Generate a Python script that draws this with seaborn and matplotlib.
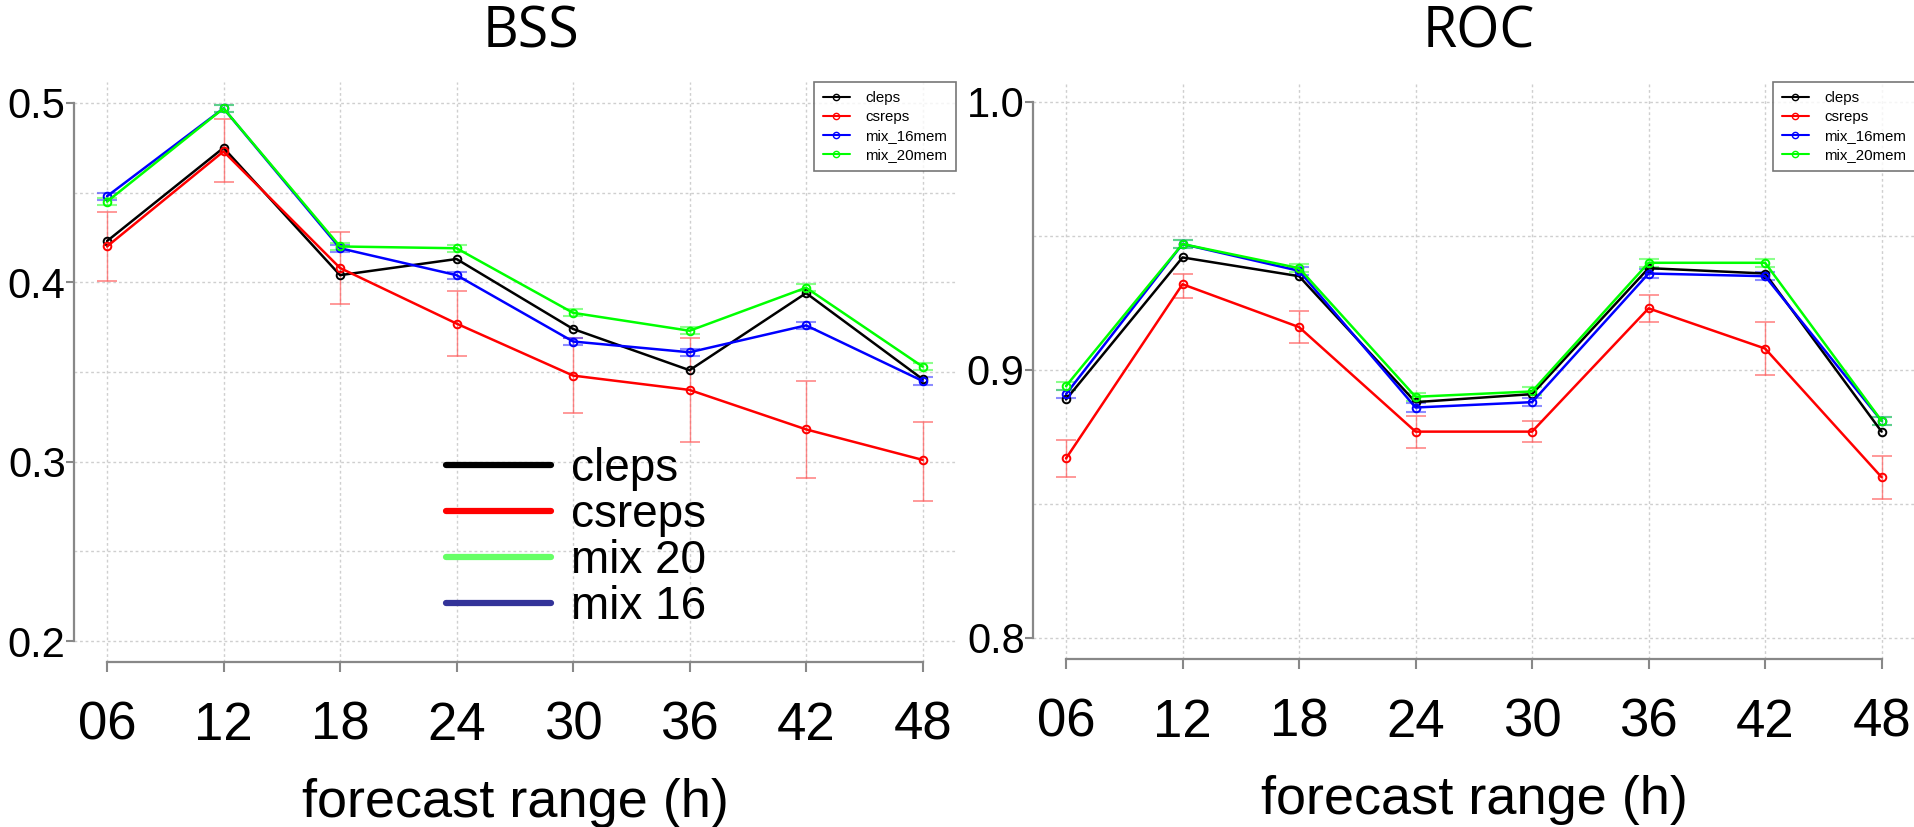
import matplotlib
matplotlib.use("Agg")
import matplotlib.pyplot as plt
from matplotlib.lines import Line2D
from matplotlib.ticker import MultipleLocator
import pandas as pd
import seaborn as sns

# forecast ranges
hours = [6, 12, 18, 24, 30, 36, 42, 48]
hour_labels = ["06", "12", "18", "24", "30", "36", "42", "48"]
models = ["cleps", "csreps", "mix_16mem", "mix_20mem"]
model_colors = ["#000000", "#FF0000", "#0000FF", "#00FF00"]

# BSS values
bss_cleps = [0.423, 0.475, 0.404, 0.413, 0.374, 0.351, 0.394, 0.346]
bss_csreps = [0.420, 0.473, 0.408, 0.377, 0.348, 0.340, 0.318, 0.301]
bss_mix16 = [0.448, 0.497, 0.419, 0.404, 0.367, 0.361, 0.376, 0.345]
bss_mix20 = [0.445, 0.497, 0.420, 0.419, 0.383, 0.373, 0.397, 0.353]
bss_csreps_lo = [0.401, 0.456, 0.388, 0.359, 0.327, 0.311, 0.291, 0.278]
bss_csreps_hi = [0.439, 0.491, 0.428, 0.395, 0.369, 0.369, 0.345, 0.322]
bss_mix16_err = [0.002, 0.002, 0.002, 0.002, 0.002, 0.002, 0.002, 0.002]
bss_mix20_err = [0.002, 0.002, 0.002, 0.002, 0.002, 0.002, 0.002, 0.002]

# ROC area values
roc_cleps = [0.889, 0.942, 0.935, 0.888, 0.891, 0.938, 0.936, 0.877]
roc_csreps = [0.867, 0.932, 0.916, 0.877, 0.877, 0.923, 0.908, 0.860]
roc_mix16 = [0.891, 0.947, 0.937, 0.886, 0.888, 0.936, 0.935, 0.881]
roc_mix20 = [0.894, 0.947, 0.938, 0.890, 0.892, 0.940, 0.940, 0.881]
roc_csreps_lo = [0.860, 0.927, 0.910, 0.871, 0.873, 0.918, 0.898, 0.852]
roc_csreps_hi = [0.874, 0.936, 0.922, 0.883, 0.881, 0.928, 0.918, 0.868]
roc_mix16_err = [0.0015, 0.0015, 0.0015, 0.0015, 0.0015, 0.0015, 0.0015, 0.0015]
roc_mix20_err = [0.0015, 0.0015, 0.0015, 0.0015, 0.0015, 0.0015, 0.0015, 0.0015]

# big legend on the BSS panel
big_labels = ["cleps", "csreps", "mix 20", "mix 16"]
big_colors = ["#000000", "#FF0000", "#66FF66", "#333399"]

sns.set_style("white")
plt.rcParams["font.family"] = ["Liberation Sans", "DejaVu Sans"]
plt.rcParams["text.color"] = "black"
plt.rcParams["axes.labelcolor"] = "black"
plt.rcParams["xtick.color"] = "black"
plt.rcParams["ytick.color"] = "black"

W, H = 1915, 827
fig = plt.figure(figsize=(W / 100, H / 100), dpi=100)


def draw_panel(ax, values, lo, hi, err16, err20, ylim, ybounds, title, title_x):
    df = pd.DataFrame({
        "hour": hours * 4,
        "value": values[0] + values[1] + values[2] + values[3],
        "model": [m for m in models for _ in hours],
    })

    ax.set_xlim(4.3, 49.72)
    ax.set_ylim(*ylim)
    ax.yaxis.set_major_locator(MultipleLocator(0.1))
    ax.yaxis.set_minor_locator(MultipleLocator(0.05))
    ax.grid(True, which="both", axis="both", color="#CFCFCF", lw=1.0,
            ls=(0, (2, 2)), zorder=0)
    ax.set_axisbelow(True)

    # csreps error bars (wide) and small ones for the mixes
    red_lo = [v - l for v, l in zip(values[1], lo)]
    red_hi = [h - v for v, h in zip(values[1], hi)]
    ax.errorbar(hours, values[1], yerr=[red_lo, red_hi], fmt="none",
                ecolor="#FF6060", elinewidth=1.0, capsize=7.5, capthick=1.2,
                alpha=0.75, zorder=2)
    ax.errorbar(hours, values[2], yerr=err16, fmt="none", ecolor="#4040FF",
                elinewidth=1.0, capsize=7, capthick=1.5, alpha=0.6, zorder=2)
    ax.errorbar(hours, values[3], yerr=err20, fmt="none", ecolor="#40FF40",
                elinewidth=1.0, capsize=7, capthick=1.5, alpha=0.6, zorder=2)

    for m, c in zip(models, model_colors):
        sns.lineplot(data=df[df["model"] == m], x="hour", y="value", ax=ax,
                     color=c, lw=1.8, marker="o", markersize=5.5,
                     markerfacecolor="none", markeredgecolor=c,
                     markeredgewidth=1.4, legend=False, zorder=3)

    ax.set_xticks(hours)
    ax.set_xticklabels(hour_labels)
    ax.set_xlabel("forecast range (h)", fontsize=39, labelpad=19.5)
    ax.set_ylabel("")
    for s in ["top", "right"]:
        ax.spines[s].set_visible(False)
    for s in ["left", "bottom"]:
        ax.spines[s].set_color("#888888")
        ax.spines[s].set_linewidth(1.6)
    ax.spines["left"].set_bounds(*ybounds)
    ax.spines["bottom"].set_bounds(hours[0], hours[-1])
    ax.tick_params(axis="x", which="major", length=7, width=1.5,
                   color="#888888", pad=21, labelsize=38, bottom=True)
    ax.tick_params(axis="y", which="major", length=6, width=1.5,
                   color="#888888", pad=0, labelsize=30, left=True)
    ax.tick_params(axis="y", which="minor", length=0)

    small = [Line2D([], [], color=c, lw=1.5, marker="o", markersize=4.5,
                    markerfacecolor="none", markeredgecolor=c)
             for c in model_colors]
    leg = ax.legend(small, models, loc="upper right", borderaxespad=0,
                    fontsize=10.8, frameon=True, fancybox=False,
                    edgecolor="#555555", handlelength=1.8, handletextpad=1.0,
                    labelspacing=0.33, borderpad=0.6)
    leg.get_frame().set_linewidth(1.2)
    fig.text(title_x / W, 1 - 33 / H, title, ha="center", va="center",
             fontsize=40, family=["Open Sans", "DejaVu Sans"])
    return leg


ax1 = fig.add_axes([74 / W, 1 - 662 / H, 882 / W, (662 - 82) / H])
ax2 = fig.add_axes([1033 / W, 1 - 659 / H, 882 / W, (659 - 82) / H])

leg1 = draw_panel(ax1, [bss_cleps, bss_csreps, bss_mix16, bss_mix20],
                  bss_csreps_lo, bss_csreps_hi, bss_mix16_err, bss_mix20_err,
                  (0.18829, 0.51171), (0.2, 0.5), "BSS", 531)
draw_panel(ax2, [roc_cleps, roc_csreps, roc_mix16, roc_mix20],
           roc_csreps_lo, roc_csreps_hi, roc_mix16_err, roc_mix20_err,
           (0.79216, 1.00746), (0.8, 1.0), "ROC", 1479)

ax1.add_artist(leg1)
big = [Line2D([], [], color=c, lw=4.5) for c in big_colors]
ax1.legend(big, big_labels, loc="center left",
           bbox_to_anchor=(446 / W, 1 - 538 / H), bbox_transform=fig.transFigure,
           frameon=False, fontsize=33, handlelength=2.3, handletextpad=0.43,
           labelspacing=0.05, borderpad=0, borderaxespad=0)

fig.savefig("out.png", dpi=100)
